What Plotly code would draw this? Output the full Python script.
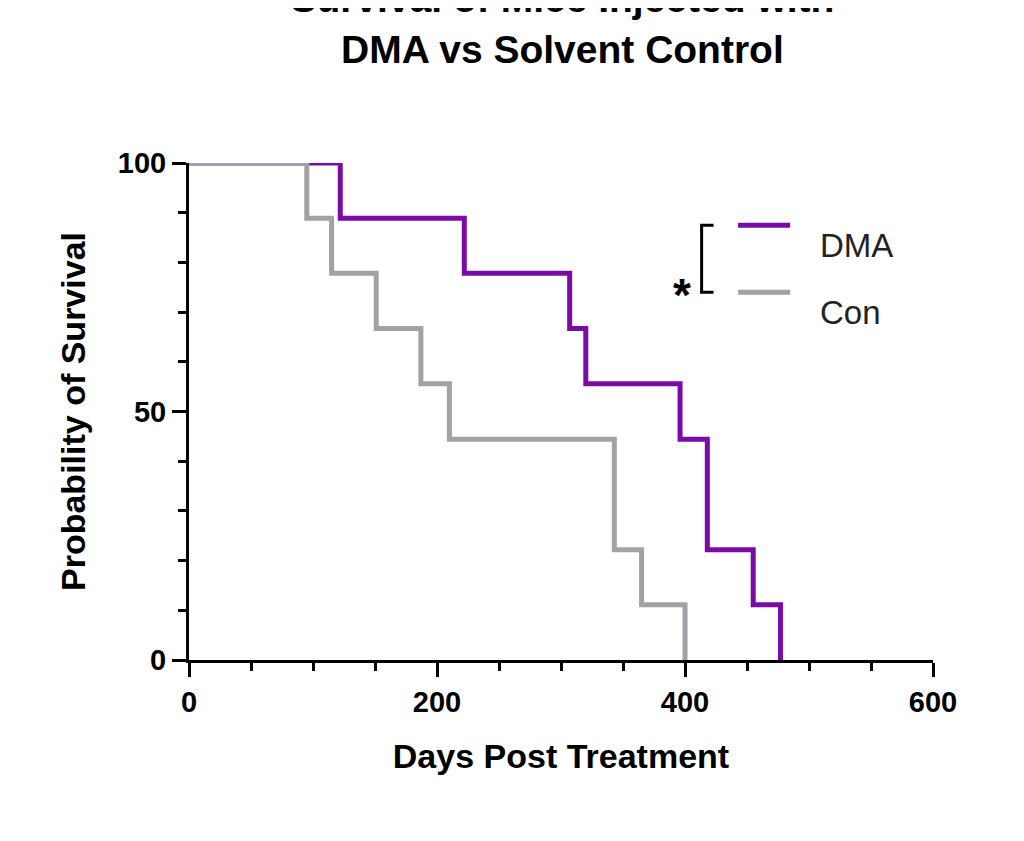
import plotly.graph_objects as go

# Kaplan-Meier step data (days, % survival)
dma_days = [0, 122, 222, 307, 320, 396, 418, 455, 477]
dma_surv = [100, 88.9, 77.8, 66.7, 55.6, 44.4, 22.2, 11.1, 0]
con_days = [0, 95, 115, 151, 187, 210, 343, 365, 400]
con_surv = [100, 88.9, 77.8, 66.7, 55.6, 44.4, 22.2, 11.1, 0]
groups = ["DMA", "Con"]
colors = ["#7A0BA6", "#A2A2A6"]

font = "Liberation Sans, Arial, sans-serif"

fig = go.Figure()
for days, surv, color, name in [(dma_days, dma_surv, colors[0], groups[0]),
                                (con_days, con_surv, colors[1], groups[1])]:
    fig.add_trace(go.Scatter(x=days, y=surv, mode="lines", line_shape="hv",
                             line=dict(color=color, width=5), name=name,
                             cliponaxis=False, showlegend=False))

# hand-drawn legend with significance bracket
for yy, color, name in [(0.875, colors[0], groups[0]), (0.740, colors[1], groups[1])]:
    fig.add_shape(type="line", xref="paper", yref="paper", x0=0.738, x1=0.808,
                  y0=yy, y1=yy, line=dict(color=color, width=5))
    fig.add_annotation(xref="paper", yref="paper", x=0.845, y=yy, text=name,
                       showarrow=False, xanchor="left",
                       font=dict(family=font, size=33, color="#222"))
fig.add_shape(type="path", xref="paper", yref="paper",
              path="M 0.705 0.875 L 0.689 0.875 L 0.689 0.740 L 0.705 0.740",
              line=dict(color="black", width=3))
fig.add_annotation(xref="paper", yref="paper", x=0.662, y=0.79, text="<b>*</b>",
                   showarrow=False, font=dict(family=font, size=46, color="black"))

axis_common = dict(showline=True, linecolor="black", linewidth=3, ticks="outside",
                   tickwidth=3, ticklen=14, tickcolor="black", showgrid=False,
                   zeroline=False,
                   tickfont=dict(family=font, size=29, color="black", weight="bold"),
                   title_font=dict(family=font, size=34, color="black", weight="bold"))

fig.update_xaxes(range=[0, 600], tickvals=[0, 200, 400, 600],
                 minor=dict(dtick=50, ticks="outside", ticklen=8, tickwidth=3,
                            tickcolor="black"),
                 title_text="Days Post Treatment", title_standoff=28, **axis_common)
fig.update_yaxes(range=[0, 100], tickvals=[0, 50, 100],
                 minor=dict(dtick=10, ticks="outside", ticklen=8, tickwidth=3,
                            tickcolor="black"),
                 title_text="Probability of Survival", title_standoff=22, **axis_common)

fig.update_layout(
    width=1008, height=825,
    margin=dict(l=181, r=83, t=155, b=173),
    plot_bgcolor="white", paper_bgcolor="white",
    title=dict(text="Survival of Mice Injected with<br>DMA vs Solvent Control",
               x=0.55, xanchor="center", y=0.995, yanchor="top",
               font=dict(family=font, size=39, color="black", weight="bold")),
)

fig.write_html("out.html")
